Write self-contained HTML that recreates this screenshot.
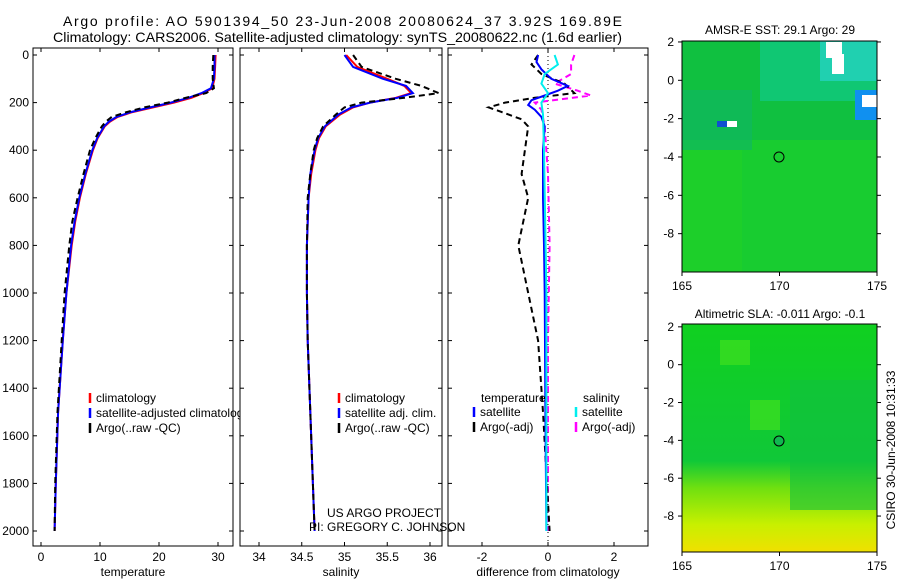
<!DOCTYPE html>
<html><head><meta charset="utf-8"><style>
body{margin:0;background:#fff;width:900px;height:580px;overflow:hidden;font-family:"Liberation Sans",sans-serif}
svg text{font-family:"Liberation Sans",sans-serif;font-size:12px;fill:#000}
</style></head><body>
<svg id="fig" width="900" height="580" xmlns="http://www.w3.org/2000/svg">
<defs>
<linearGradient id="g2" x1="0" y1="0" x2="0" y2="1">
<stop offset="0" stop-color="#10d020"/><stop offset="0.6" stop-color="#10c838"/><stop offset="0.72" stop-color="#70e010"/><stop offset="0.88" stop-color="#c8f000"/><stop offset="1" stop-color="#f0e000"/></linearGradient>
</defs>
<text x="63" y="26" textLength="559" lengthAdjust="spacing" style="font-size:14px">Argo profile: AO 5901394_50 23-Jun-2008 20080624_37 3.92S 169.89E</text>
<text x="53" y="42" textLength="569" lengthAdjust="spacingAndGlyphs" style="font-size:14px">Climatology: CARS2006. Satellite-adjusted climatology: synTS_20080622.nc (1.6d earlier)</text>
<g id="p1"></g>
<g id="p2"></g>
<g id="p3"></g>
<g id="m1">
<rect x="682" y="41" width="195" height="231" fill="#10c040"/>
<rect x="682" y="140" width="195" height="132" fill="#18cc30"/>
<rect x="682" y="150" width="60" height="122" fill="#20d028" opacity="0.7"/>
<rect x="760" y="41" width="117" height="60" fill="#10c880" opacity="0.8"/>
<rect x="820" y="41" width="57" height="40" fill="#20d0b0"/>
<rect x="682" y="90" width="70" height="60" fill="#10b860" opacity="0.7"/>
<rect x="855" y="90" width="22" height="30" fill="#1090f0"/>
<rect x="826" y="42" width="16" height="16" fill="#fff"/><rect x="832" y="54" width="12" height="20" fill="#fff"/>
<rect x="862" y="95" width="15" height="12" fill="#fff"/>
<rect x="717" y="121" width="10" height="6" fill="#1050d0"/><rect x="727" y="121" width="10" height="6" fill="#fff"/>
<circle cx="779" cy="157" r="5" fill="none" stroke="#000"/>
<text x="780" y="34" text-anchor="middle">AMSR-E SST: 29.1 Argo: 29</text>
</g>
<g id="m2">
<rect x="682" y="324" width="195" height="228" fill="url(#g2)"/>
<rect x="790" y="380" width="87" height="130" fill="#10c040" opacity="0.6"/>
<rect x="720" y="340" width="30" height="25" fill="#40e020" opacity="0.7"/>
<rect x="750" y="400" width="30" height="30" fill="#40e020" opacity="0.7"/>
<circle cx="779" cy="441" r="5" fill="#10b850" stroke="#000"/>
<text x="780" y="318" text-anchor="middle">Altimetric SLA: -0.011 Argo: -0.1</text>
</g>
<text transform="translate(895,450) rotate(-90)" text-anchor="middle">CSIRO 30-Jun-2008 10:31:33</text>
<text x="327" y="517">US ARGO PROJECT</text>
<text x="309" y="531">PI: GREGORY C. JOHNSON</text>
</svg>
<script>
const NS="http://www.w3.org/2000/svg";
const depthTicks=[0,200,400,600,800,1000,1200,1400,1600,1800,2000];
const tempTicks=[0,10,20,30];
const salTicks=[34,34.5,35,35.5,36];
const diffTicks=[-2,0,2];
const lonTicks=[165,170,175];
const latTicks=[0,-2,-4,-6,-8];
// temperature profile
const tDepth=[0,50,100,140,160,180,200,220,240,260,280,300,350,400,500,600,700,800,1000,1200,1500,1800,2000];
const tClim=[29.6,29.5,29.4,29.0,27.5,25.5,22.5,19.0,15.5,13.0,11.7,10.8,9.6,8.8,7.6,6.6,5.8,5.2,4.3,3.7,2.9,2.5,2.3];
const tSat=[29.4,29.4,29.3,28.8,27.2,25.0,22.0,18.5,15.2,12.8,11.5,10.7,9.5,8.7,7.5,6.5,5.7,5.1,4.3,3.7,2.9,2.5,2.3];
const tArgo=[29.2,29.1,29.1,29.3,28.0,24.5,21.5,17.5,14.5,12.0,11.0,10.3,9.2,8.3,7.2,6.2,5.3,4.8,4.0,3.5,2.8,2.4,2.3];
// salinity profile
const sDepth=[0,50,100,130,160,180,200,220,250,300,350,400,500,600,800,1000,1200,1500,2000];
const sClim=[35.02,35.15,35.5,35.7,35.78,35.6,35.3,35.1,34.95,34.78,34.7,34.66,34.61,34.58,34.56,34.56,34.57,34.6,34.65];
const sSat=[35.0,35.1,35.45,35.72,35.8,35.62,35.3,35.08,34.93,34.77,34.69,34.65,34.6,34.58,34.56,34.56,34.57,34.6,34.65];
const sArgo=[35.1,35.2,35.6,35.9,36.1,35.7,35.2,35.0,34.9,34.75,34.68,34.64,34.6,34.57,34.56,34.56,34.57,34.6,34.65];
// differences
const dTSDepth=[0,30,60,100,130,150,170,190,210,230,260,300,400,600,800,1000,1500,2000];
const dTSat=[-0.3,-0.35,-0.2,0.1,0.6,0.3,-0.1,-0.5,-0.6,-0.4,-0.2,-0.1,-0.15,-0.15,-0.12,-0.1,-0.08,-0.05];
const dTADepth=[0,40,80,120,160,180,200,220,240,270,300,400,500,600,800,1000,1200,1500,2000];
const dTArgo=[-0.3,-0.5,-0.2,0.5,0.8,-0.4,-1.3,-1.8,-1.4,-0.8,-0.6,-0.7,-0.8,-0.6,-0.9,-0.6,-0.3,-0.15,0.05];
const dSSDepth=[0,40,80,120,160,200,250,400,1000,2000];
const dSSat=[0.2,0.3,-0.1,-0.2,0.0,-0.2,-0.15,-0.12,-0.05,-0.05];
const dSADepth=[0,40,80,120,150,170,200,230,300,500,800,1200,2000];
const dSArgo=[0.8,0.7,0.7,0.2,0.9,1.3,-0.4,-0.2,-0.1,0.0,0.05,0.0,0.0];

const Y0=55,YS=476/2000,TOP=48,BOT=546;
const yD=d=>Y0+d*YS;
function el(p,t,a){const e=document.createElementNS(NS,t);for(const k in a)e.setAttribute(k,a[k]);p.appendChild(e);return e;}
function panel(g,L,R,x,ticks,label,showY){
 el(g,'rect',{x:L,y:TOP,width:R-L,height:BOT-TOP,fill:'#fff',stroke:'#000'});
 ticks.forEach(v=>{const X=x(v);
  el(g,'line',{x1:X,x2:X,y1:BOT,y2:BOT-4,stroke:'#000'});el(g,'line',{x1:X,x2:X,y1:TOP,y2:TOP+4,stroke:'#000'});
  const t=el(g,'text',{x:X,y:BOT+15,'text-anchor':'middle'});t.textContent=v;
  
  });
 depthTicks.forEach(d=>{const Y=yD(d);
  el(g,'line',{x1:L,x2:L+4,y1:Y,y2:Y,stroke:'#000'});el(g,'line',{x1:R,x2:R-4,y1:Y,y2:Y,stroke:'#000'});
  if(showY){const t=el(g,'text',{x:L-4,y:Y+4,'text-anchor':'end'});t.textContent=d;
  
  }});
 const t=el(g,'text',{x:(L+R)/2,y:BOT+30,'text-anchor':'middle'});t.textContent=label;
 
 
}
function line(g,xs,ds,x,color,w,dash,name){
 const pts=xs.map((v,i)=>x(v).toFixed(1)+','+yD(ds[i]).toFixed(1)).join(' ');
 const p=el(g,'polyline',{points:pts,fill:'none',stroke:color,'stroke-width':w});
 if(dash)p.setAttribute('stroke-dasharray',dash);
 
 
}
function legend(g,x,y,items){items.forEach((it,i)=>{const Y=y+i*15;
 el(g,'line',{x1:x,x2:x,y1:Y-9,y2:Y+1,stroke:it[1],'stroke-width':2.5});
 const t=el(g,'text',{x:x+6,y:Y});t.textContent=it[0];
 
 });}
const p1=document.getElementById('p1'),p2=document.getElementById('p2'),p3=document.getElementById('p3');
const xT=v=>41+v*5.9, xS=v=>259+(v-34)*85.5, xD=v=>548+v*33;
panel(p1,33,233,xT,tempTicks,'temperature',true);
line(p1,tClim,tDepth,xT,'#f00',2,null,'temp-climatology-line');
line(p1,tSat,tDepth,xT,'#00f',2,null,'temp-satellite-line');
line(p1,tArgo,tDepth,xT,'#000',2,'6,4','temp-argo-line');
legend(p1,90,402,[['climatology','#f00'],['satellite-adjusted climatology','#00f'],['Argo(..raw -QC)','#000']]);
panel(p2,240,442,xS,salTicks,'salinity',false);
line(p2,sClim,sDepth,xS,'#f00',2,null,'sal-climatology-line');
line(p2,sSat,sDepth,xS,'#00f',2,null,'sal-satellite-line');
line(p2,sArgo,sDepth,xS,'#000',2,'6,4','sal-argo-line');
legend(p2,339,402,[['climatology','#f00'],['satellite adj. clim.','#00f'],['Argo(..raw -QC)','#000']]);
panel(p3,448,648,xD,diffTicks,'difference from climatology',false);
el(p3,'line',{x1:xD(0),x2:xD(0),y1:TOP,y2:BOT,stroke:'#000','stroke-dasharray':'1,3'});
line(p3,dSArgo,dSADepth,xD,'#f0f',2,'6,4','sal-argo-diff-line');
line(p3,dTArgo,dTADepth,xD,'#000',2,'6,4','temp-argo-diff-line');
line(p3,dTSat,dTSDepth,xD,'#00f',2,null,'temp-satellite-diff-line');
line(p3,dSSat,dSSDepth,xD,'#0ee',2,null,'sal-satellite-diff-line');
let t=el(p3,'text',{x:481,y:402});t.textContent='temperature';
t=el(p3,'text',{x:583,y:402});t.textContent='salinity';
legend(p3,474,416,[['satellite','#00f'],['Argo(-adj)','#000']]);
legend(p3,576,416,[['satellite','#0ee'],['Argo(-adj)','#f0f']]);
function mapAxes(gid,L,R,T,B,latTop,latBot){
 const g=document.getElementById(gid);
 el(g,'rect',{x:L,y:T,width:R-L,height:B-T,fill:'none',stroke:'#000'});
 const xl=v=>L+(v-165)/10*(R-L), yl=v=>T+(latTop-v)/(latTop-latBot)*(B-T);
 lonTicks.forEach(v=>{const X=xl(v);el(g,'line',{x1:X,x2:X,y1:B,y2:B+4,stroke:'#000'});
  const t=el(g,'text',{x:X,y:B+18,'text-anchor':'middle'});t.textContent=v;
  
  });
 [2].concat(latTicks).forEach(v=>{const Y=yl(v);if(Y<T-2)return;el(g,'line',{x1:L-4,x2:L,y1:Y,y2:Y,stroke:'#000'});el(g,'line',{x1:R,x2:R+4,y1:Y,y2:Y,stroke:'#000'});
  const t=el(g,'text',{x:L-8,y:Y+4,'text-anchor':'end'});t.textContent=v;
  
  });
}
mapAxes('m1',682,877,41,272,2.05,-10);
mapAxes('m2',682,877,324,552,2.15,-9.9);
</script>
</body></html>
